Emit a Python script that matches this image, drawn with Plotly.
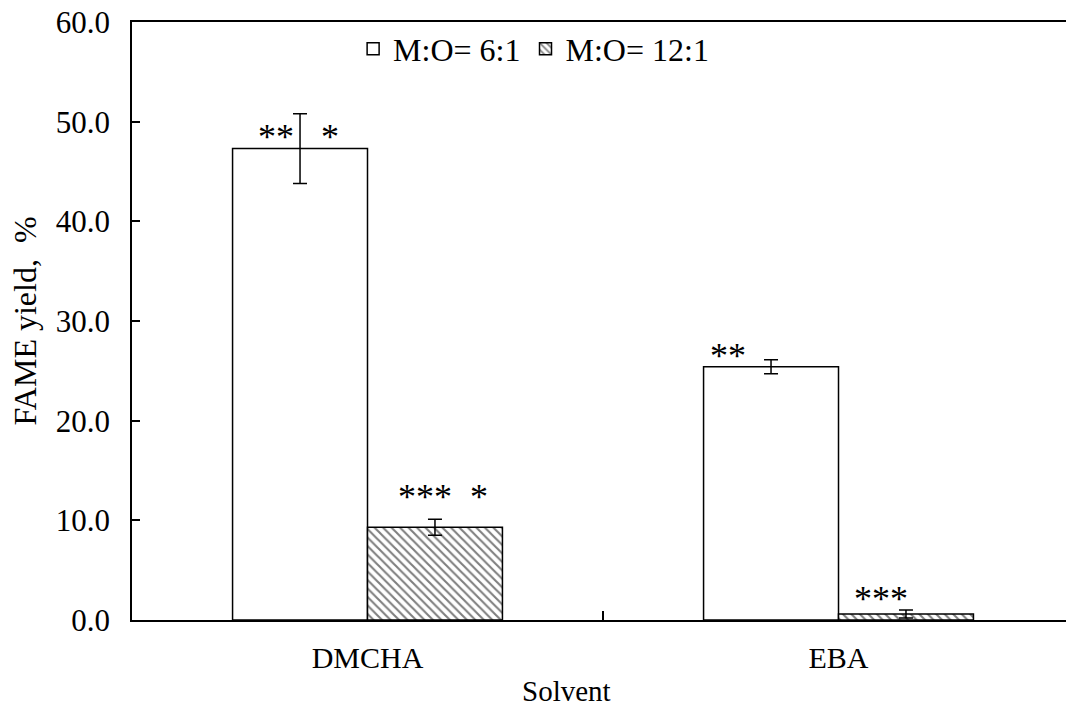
import plotly.graph_objects as go

solvents = ["DMCHA", "EBA"]
series_names = ["M:O= 6:1", "M:O= 12:1"]
yield_6 = [47.3, 25.4]
err_6 = [3.5, 0.7]
yield_12 = [9.3, 0.6]
err_12 = [0.8, 0.4]
sig_6 = ["**\u00a0\u00a0\u00a0*", "**"]
sig_12 = ["***\u00a0\u00a0*", "***"]
x_title = "Solvent"
y_title = "FAME yield,  %"

FONT = "Liberation Serif"

fig = go.Figure()
fig.add_trace(go.Bar(
    x=solvents, y=yield_6, name=series_names[0],
    marker=dict(color="white", line=dict(color="black", width=1.5)),
    error_y=dict(type="data", array=err_6, color="black", thickness=1.5, width=7),
))
fig.add_trace(go.Bar(
    x=solvents, y=yield_12, name=series_names[1],
    marker=dict(color="white", line=dict(color="black", width=1.5),
                pattern=dict(shape="\\", fgcolor="black", bgcolor="white",
                             size=6, solidity=0.35)),
    error_y=dict(type="data", array=err_12, color="black", thickness=1.5, width=7),
))

# significance markers
bar_w_px = 135
shifts_6 = [(-bar_w_px / 2 - 2, -10), (-bar_w_px / 2 - 43, -11)]
shifts_12 = [(bar_w_px / 2 + 8, 0), (bar_w_px / 2 - 25, -7)]
for i, s in enumerate(solvents):
    fig.add_annotation(x=s, y=yield_6[i], text=sig_6[i], showarrow=False,
                       xshift=shifts_6[i][0], yshift=shifts_6[i][1],
                       yanchor="bottom", font=dict(family=FONT, size=36, color="black"))
    fig.add_annotation(x=s, y=yield_12[i] + (err_12[i] if i == 0 else 0), text=sig_12[i],
                       showarrow=False, xshift=shifts_12[i][0], yshift=shifts_12[i][1],
                       yanchor="bottom", font=dict(family=FONT, size=36, color="black"))

# x-axis title (sits a little left of the axis centre in the original)
fig.add_annotation(x=0.465, xref="paper", y=-0.118, yref="paper", text=x_title,
                   showarrow=False, xanchor="center", yanchor="middle",
                   font=dict(family=FONT, size=29, color="black"))

fig.update_layout(
    width=1066, height=713,
    margin=dict(l=132, r=0, t=22, b=93),
    paper_bgcolor="white", plot_bgcolor="white",
    barmode="group", bargap=0.427, bargroupgap=0,
    font=dict(family=FONT, size=30, color="black"),
    showlegend=True,
    legend=dict(orientation="h", x=0.43, y=0.955, xanchor="center", yanchor="middle",
                font=dict(family=FONT, size=32, color="black"),
                bgcolor="rgba(0,0,0,0)", itemwidth=30, tracegroupgap=0),
    xaxis=dict(type="category", range=[-0.5, 1.483], tickson="boundaries",
               ticks="inside", ticklen=9, tickwidth=1.5, tickcolor="black",
               showline=True, linecolor="black", linewidth=1.5, mirror=True,
               showgrid=False, ticklabelstandoff=10,
               tickfont=dict(family=FONT, size=30, color="black")),
    yaxis=dict(range=[0, 60], dtick=10, tickformat=".1f",
               ticks="inside", ticklen=8, tickwidth=1.5, tickcolor="black",
               showline=True, linecolor="black", linewidth=1.5,
               showgrid=False, zeroline=False, ticklabelstandoff=14,
               tickfont=dict(family=FONT, size=31, color="black"),
               title=dict(text=y_title, standoff=10,
                          font=dict(family=FONT, size=32, color="black"))),
)

fig.write_html("out.html")
